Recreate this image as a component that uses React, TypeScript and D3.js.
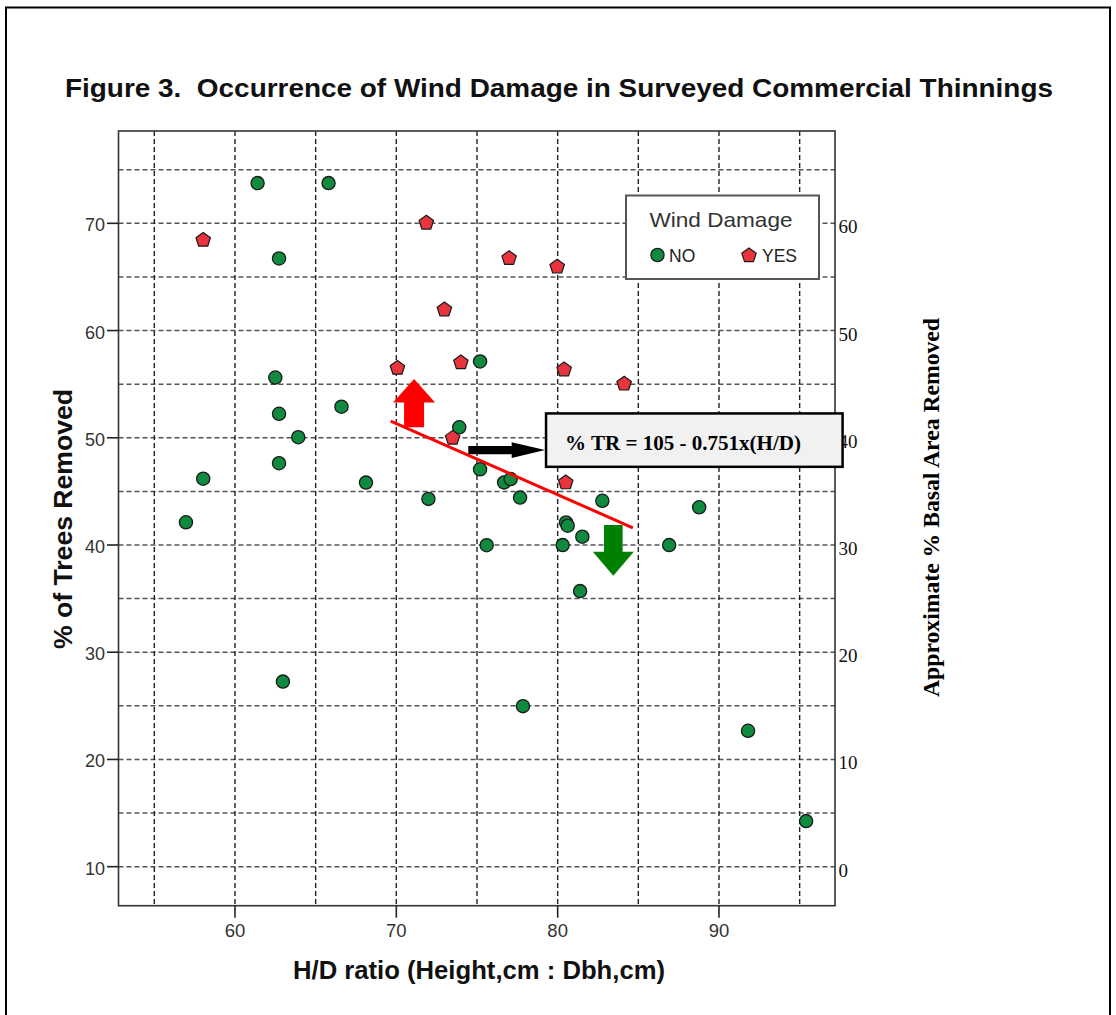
import React from "react";
import * as d3 from "d3";

// ---- data ----
const noHD = [61.4, 65.8, 62.73, 62.5, 62.73, 63.92, 62.73, 66.6, 75.19, 73.9, 58.03, 56.96, 68.12, 71.99, 75.19, 76.68, 77.09, 77.67, 80.52, 80.62, 81.53, 80.31, 75.6, 82.77, 86.91, 88.77, 81.39, 62.97, 77.85, 91.8, 95.4];
const noTR = [73.75, 73.75, 66.72, 55.62, 52.24, 50.05, 47.63, 52.9, 57.12, 50.98, 46.18, 42.12, 45.82, 44.3, 47.06, 45.84, 46.15, 44.42, 42.1, 41.8, 40.77, 39.99, 39.98, 44.12, 39.99, 43.52, 35.7, 27.26, 24.97, 22.67, 14.25];
const yesHD = [58.03, 71.86, 76.99, 79.97, 72.98, 70.07, 74.0, 80.4, 84.12, 73.49, 80.5];
const yesTR = [68.44, 70.04, 66.74, 65.94, 61.95, 56.5, 57.02, 56.35, 55.03, 49.98, 45.82];

const trendHD = [69.65, 84.66];
const trendTR = [51.56, 41.6];

const xTicks = [60, 70, 80, 90];
const xGrid = [55, 60, 65, 70, 75, 80, 85, 90, 95];
const yTicks = [10, 20, 30, 40, 50, 60, 70];
const yGrid = [10, 15, 20, 25, 30, 35, 40, 45, 50, 55, 60, 65, 70, 75];
const yRightTicks = [0, 10, 20, 30, 40, 50, 60];

// annotation arrows (data units)
const upArrow = { hd: 71.1, tip: 55.48, headBase: 53.3, bottom: 50.97 };
const downArrow = { hd: 83.45, top: 41.86, headBase: 39.37, tip: 37.13 };
const rightArrow = { tr: 48.85, start: 74.46, headBase: 77.15, tip: 79.22 };
const eqBox = { hd0: 79.28, hd1: 97.66, tr0: 52.27, tr1: 47.29 };

const SANS = "'Liberation Sans', Arial, Helvetica, sans-serif";
const SERIF = "'Liberation Serif', 'Times New Roman', Times, serif";
const GREEN = "#108a3f";
const RED = "#e8343c";

function pentagon(cx: number, cy: number, r: number) {
  const pts: [number, number][] = [];
  for (let k = 0; k < 5; k++) {
    const a = (-90 + k * 72) * Math.PI / 180;
    pts.push([cx + r * Math.cos(a), cy + r * Math.sin(a)]);
  }
  return "M" + pts.map(p => p.join(",")).join("L") + "Z";
}

export default function App() {
  const L = 118.5, R = 835, T = 131, B = 905.7;
  const x = d3.scaleLinear().domain([52.78, 97.19]).range([L, R]);
  const y = d3.scaleLinear().domain([6.36, 78.61]).range([B, T]);
  const yR = d3.scaleLinear().domain([-3.64, 68.61]).range([B, T]);
  const line = d3.line<number>().x((_, i) => x(trendHD[i])).y((_, i) => y(trendTR[i]));

  const ua = upArrow;
  const uax = x(ua.hd);
  const upPath = `M${uax - 10},${y(ua.bottom)}L${uax - 10},${y(ua.headBase)}L${uax - 21},${y(ua.headBase)}L${uax},${y(ua.tip)}L${uax + 21},${y(ua.headBase)}L${uax + 10},${y(ua.headBase)}L${uax + 10},${y(ua.bottom)}Z`;
  const da = downArrow;
  const dax = x(da.hd);
  const downPath = `M${dax - 9.3},${y(da.top)}L${dax - 9.3},${y(da.headBase)}L${dax - 20.5},${y(da.headBase)}L${dax},${y(da.tip)}L${dax + 20.5},${y(da.headBase)}L${dax + 9.3},${y(da.headBase)}L${dax + 9.3},${y(da.top)}Z`;
  const ra = rightArrow;
  const ray = y(ra.tr);
  const rightPath = `M${x(ra.start)},${ray - 4.2}L${x(ra.headBase)},${ray - 4.2}L${x(ra.headBase)},${ray - 7.8}L${x(ra.tip)},${ray}L${x(ra.headBase)},${ray + 7.8}L${x(ra.headBase)},${ray + 4.2}L${x(ra.start)},${ray + 4.2}Z`;

  return (
    <svg width={1116} height={1015} style={{ position: "absolute", left: 0, top: 0, display: "block", background: "#fff" }}>
      <rect x={6} y={7.5} width={1104} height={1040} fill="#fff" stroke="#000" strokeWidth={2} />
      <text x={559} y={97} textAnchor="middle" fontFamily={SANS} fontWeight="bold" fontSize={25} fill="#111"
        textLength={988} lengthAdjust="spacingAndGlyphs" style={{ whiteSpace: "pre" }}>
        {"Figure 3.  Occurrence of Wind Damage in Surveyed Commercial Thinnings"}
      </text>

      {/* gridlines */}
      {yGrid.map(v => (
        <line key={"hy" + v} x1={L} x2={R} y1={y(v)} y2={y(v)} stroke="#555" strokeWidth={1.5} strokeDasharray="5,3" />
      ))}
      {xGrid.map(v => (
        <line key={"vx" + v} x1={x(v)} x2={x(v)} y1={T} y2={B} stroke="#222" strokeWidth={1.4} strokeDasharray="5,3" />
      ))}

      {/* frame */}
      <rect x={L} y={T} width={R - L} height={B - T} fill="none" stroke="#333" strokeWidth={1.6} />

      {/* left axis */}
      {yTicks.map(v => (
        <g key={"yl" + v}>
          <line x1={L - 11.5} x2={L} y1={y(v)} y2={y(v)} stroke="#222" strokeWidth={1.6} />
          <text x={105} y={y(v) + 8} textAnchor="end" fontFamily={SANS} fontSize={18} fill="#333">{v}</text>
        </g>
      ))}
      {/* bottom axis */}
      {xTicks.map(v => (
        <g key={"xb" + v}>
          <line x1={x(v)} x2={x(v)} y1={B} y2={B + 12} stroke="#222" strokeWidth={1.6} />
          <text x={x(v)} y={936.5} textAnchor="middle" fontFamily={SANS} fontSize={18.5} fill="#333">{v}</text>
        </g>
      ))}
      {/* right axis labels */}
      {yRightTicks.map(v => (
        <text key={"yr" + v} x={838.5} y={yR(v) + 10} fontFamily={SERIF} fontSize={19} fill="#111">{v}</text>
      ))}

      {/* axis titles */}
      <text x={479} y={979} textAnchor="middle" fontFamily={SANS} fontWeight="bold" fontSize={25} fill="#111"
        textLength={372} lengthAdjust="spacingAndGlyphs">
        H/D ratio (Height,cm : Dbh,cm)
      </text>
      <text transform={`translate(72,519) rotate(-90)`} textAnchor="middle" fontFamily={SANS} fontWeight="bold" fontSize={25} fill="#111"
        textLength={260} lengthAdjust="spacingAndGlyphs">
        % of Trees Removed
      </text>
      <text transform={`translate(939,507.5) rotate(-90)`} textAnchor="middle" fontFamily={SERIF} fontWeight="bold" fontSize={23} fill="#000"
        textLength={379} lengthAdjust="spacingAndGlyphs">
        Approximate % Basal Area Removed
      </text>

      {/* points */}
      {noHD.map((v, i) => (
        <circle key={"n" + i} cx={x(v)} cy={y(noTR[i])} r={6.6} fill={GREEN} stroke="#1a1a1a" strokeWidth={1.3} />
      ))}
      {yesHD.map((v, i) => (
        <path key={"y" + i} d={pentagon(x(v), y(yesTR[i]), 7.6)} fill={RED} stroke="#1a1a1a" strokeWidth={1.2} strokeLinejoin="round" />
      ))}

      {/* trend line */}
      <path d={line([0, 1]) || ""} fill="none" stroke="#ff0000" strokeWidth={3} />

      {/* arrows */}
      <path d={upPath} fill="#ff0000" />
      <path d={downPath} fill="#008000" />
      <path d={rightPath} fill="#000" />

      {/* equation box */}
      <rect x={x(eqBox.hd0)} y={y(eqBox.tr0)} width={x(eqBox.hd1) - x(eqBox.hd0)} height={y(eqBox.tr1) - y(eqBox.tr0)} fill="#f1f1f1" stroke="#000" strokeWidth={2.5} />
      <text x={x(eqBox.hd0) + 19} y={450} fontFamily={SERIF} fontWeight="bold" fontSize={21} fill="#000"
        textLength={236} lengthAdjust="spacingAndGlyphs">
        % TR = 105 - 0.751x(H/D)
      </text>

      {/* legend */}
      <rect x={626} y={195.5} width={193} height={83.5} fill="#fff" stroke="#555" strokeWidth={2} />
      <text x={721} y={227} textAnchor="middle" fontFamily={SANS} fontSize={21} fill="#333"
        textLength={143} lengthAdjust="spacingAndGlyphs">Wind Damage</text>
      <circle cx={657.5} cy={255} r={6.6} fill={GREEN} stroke="#1a1a1a" strokeWidth={1.3} />
      <text x={669} y={261.5} fontFamily={SANS} fontSize={17.5} fill="#222">NO</text>
      <path d={pentagon(749, 255.5, 7.6)} fill={RED} stroke="#1a1a1a" strokeWidth={1.2} strokeLinejoin="round" />
      <text x={762} y={261.5} fontFamily={SANS} fontSize={17.5} fill="#222">YES</text>
    </svg>
  );
}
